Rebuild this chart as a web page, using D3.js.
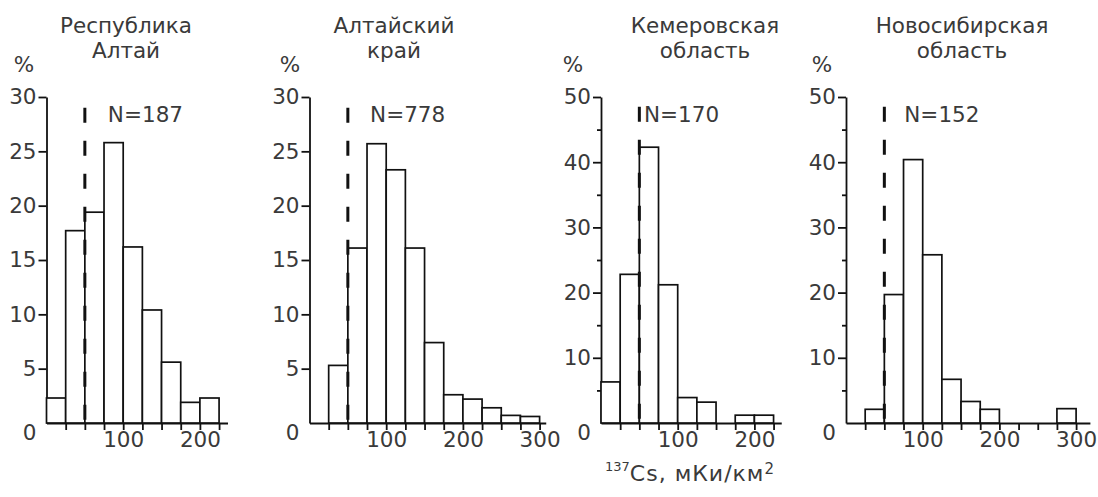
<!DOCTYPE html>
<html lang="ru">
<head>
<meta charset="UTF-8">
<title>137Cs histograms</title>
<style>
    body { margin: 0; background: #fff; }
    svg { display: block; }
    text { font-family: 'DejaVu Sans', sans-serif; fill: #3a3a3a; }
    .axis path, .axis line { stroke: #111; stroke-width: 1.8px; }
    .axis text { font-family: 'DejaVu Sans', sans-serif; font-size: 21.5px; fill: #3a3a3a; }
    .bar { fill: #fff; stroke: #111; stroke-width: 1.7px; }
    .limit { stroke: #111; stroke-width: 3px; stroke-dasharray: 15, 18; }
</style>
</head>
<body>
<script src="https://d3js.org/d3.v7.min.js"></script>
<script>
    // данные
    const regions = [["Республика", "Алтай"], ["Алтайский", "край"], ["Кемеровская", "область"], ["Новосибирская", "область"]];
    const sampleN = [187, 778, 170, 152];
    const binWidth = 25;
    const binStart = [0, 25, 0, 25];
    const percents = [
        [2.3, 17.7, 19.4, 25.8, 16.2, 10.4, 5.6, 1.9, 2.3],
        [5.3, 16.1, 25.7, 23.3, 16.1, 7.4, 2.6, 2.2, 1.4, 0.7, 0.6],
        [6.3, 22.8, 42.3, 21.2, 3.9, 3.2, 0, 1.2, 1.2],
        [2.1, 19.7, 40.4, 25.8, 6.7, 3.3, 2.1, 0, 0, 0, 2.2]
    ];
    const yMax = [30, 30, 50, 50];
    const yTicks = [[5, 10, 15, 20, 25, 30], [5, 10, 15, 20, 25, 30], [10, 20, 30, 40, 50], [10, 20, 30, 40, 50]];
    const yMinorTicks = [[], [], [5, 15, 25, 35, 45], [5, 15, 25, 35, 45]];
    const xTickLabels = [[100, 200], [100, 200, 300], [100, 200], [100, 200, 300]];
    const xMax = [236, 308, 235, 318];
    const threshold = 50;
    const dashTop = [29, 29, 48.5, 48.5];
    const nLabelAt = [80, 79, 56, 76];

    // раскладка
    const width = 1098, height = 497;
    const plotTop = 97, plotBottom = 423;
    const pxPerUnit = 0.767;
    const axisLeft = [46.5, 309.5, 601, 846];
    const titleX = [126, 394, 705, 962];
    const percentX = [24, 290, 573, 822];
    const fontSize = 21.5;

    const svg = d3.select("body").append("svg")
        .attr("width", width)
        .attr("height", height);

    regions.forEach((title, i) => {
        const x = d3.scaleLinear()
            .domain([0, xMax[i]])
            .range([axisLeft[i], axisLeft[i] + xMax[i] * pxPerUnit]);
        const y = d3.scaleLinear()
            .domain([0, yMax[i]])
            .range([plotBottom, plotTop]);

        const g = svg.append("g");

        // заголовок
        const t = g.append("text")
            .attr("text-anchor", "middle")
            .style("font-size", fontSize + "px");
        t.append("tspan").attr("x", titleX[i]).attr("y", 33).text(title[0]);
        t.append("tspan").attr("x", titleX[i]).attr("y", 58).text(title[1]);

        g.append("text")
            .attr("x", percentX[i])
            .attr("y", 72)
            .attr("text-anchor", "middle")
            .style("font-size", fontSize + "px")
            .text("%");

        // ось X: засечки на границах интервалов
        const xAxis = d3.axisBottom(x)
            .tickValues(d3.range(binWidth, xMax[i], binWidth))
            .tickFormat(d => xTickLabels[i].includes(d) ? d : "")
            .tickSize(7)
            .tickPadding(2)
            .tickSizeOuter(0);
        g.append("g")
            .attr("class", "axis")
            .attr("transform", `translate(0,${plotBottom})`)
            .call(xAxis)
            .call(a => a.selectAll("text").attr("font-size", null).attr("font-family", null));

        // ось Y
        const yAxis = d3.axisLeft(y)
            .tickValues(yTicks[i])
            .tickSize(8)
            .tickPadding(2)
            .tickSizeOuter(0);
        g.append("g")
            .attr("class", "axis")
            .attr("transform", `translate(${axisLeft[i]},0)`)
            .call(yAxis)
            .call(a => a.selectAll("text").attr("font-size", null).attr("font-family", null));

        if (yMinorTicks[i].length) {
            g.append("g")
                .attr("class", "axis")
                .attr("transform", `translate(${axisLeft[i]},0)`)
                .call(d3.axisLeft(y).tickValues(yMinorTicks[i]).tickSize(4).tickFormat(""))
                .call(a => a.select(".domain").remove());
        }

        // ноль ниже оси
        g.append("text")
            .attr("x", axisLeft[i] - 10)
            .attr("y", y(0) + 9)
            .attr("dy", "0.36em")
            .attr("text-anchor", "end")
            .style("font-size", fontSize + "px")
            .text("0");

        // столбцы
        const bars = percents[i]
            .map((v, k) => ({ x0: binStart[i] + k * binWidth, v: v }))
            .filter(d => d.v > 0);

        g.append("g")
            .selectAll("rect")
            .data(bars)
            .enter().append("rect")
            .attr("class", "bar")
            .attr("x", d => x(d.x0))
            .attr("width", d => x(d.x0 + binWidth) - x(d.x0))
            .attr("y", d => y(d.v))
            .attr("height", d => y(0) - y(d.v));

        // пороговая линия
        g.append("line")
            .attr("class", "limit")
            .attr("x1", x(threshold))
            .attr("x2", x(threshold))
            .attr("y1", y(dashTop[i]))
            .attr("y2", y(0));

        g.append("text")
            .attr("x", x(nLabelAt[i]))
            .attr("y", 122)
            .style("font-size", fontSize + "px")
            .text("N=" + sampleN[i]);
    });

    // подпись оси X
    const unit = svg.append("text")
        .attr("x", 605)
        .attr("y", 477)
        .style("font-size", "22px")
        .style("letter-spacing", "1px");
    unit.append("tspan").attr("dy", "-0.45em").style("font-size", "13px").style("letter-spacing", "0px").text("137");
    unit.append("tspan").attr("dy", "0.45em").text("Cs,  мКи/км");
    unit.append("tspan").attr("dy", "-0.45em").style("font-size", "15px").text("2");
</script>
</body>
</html>
